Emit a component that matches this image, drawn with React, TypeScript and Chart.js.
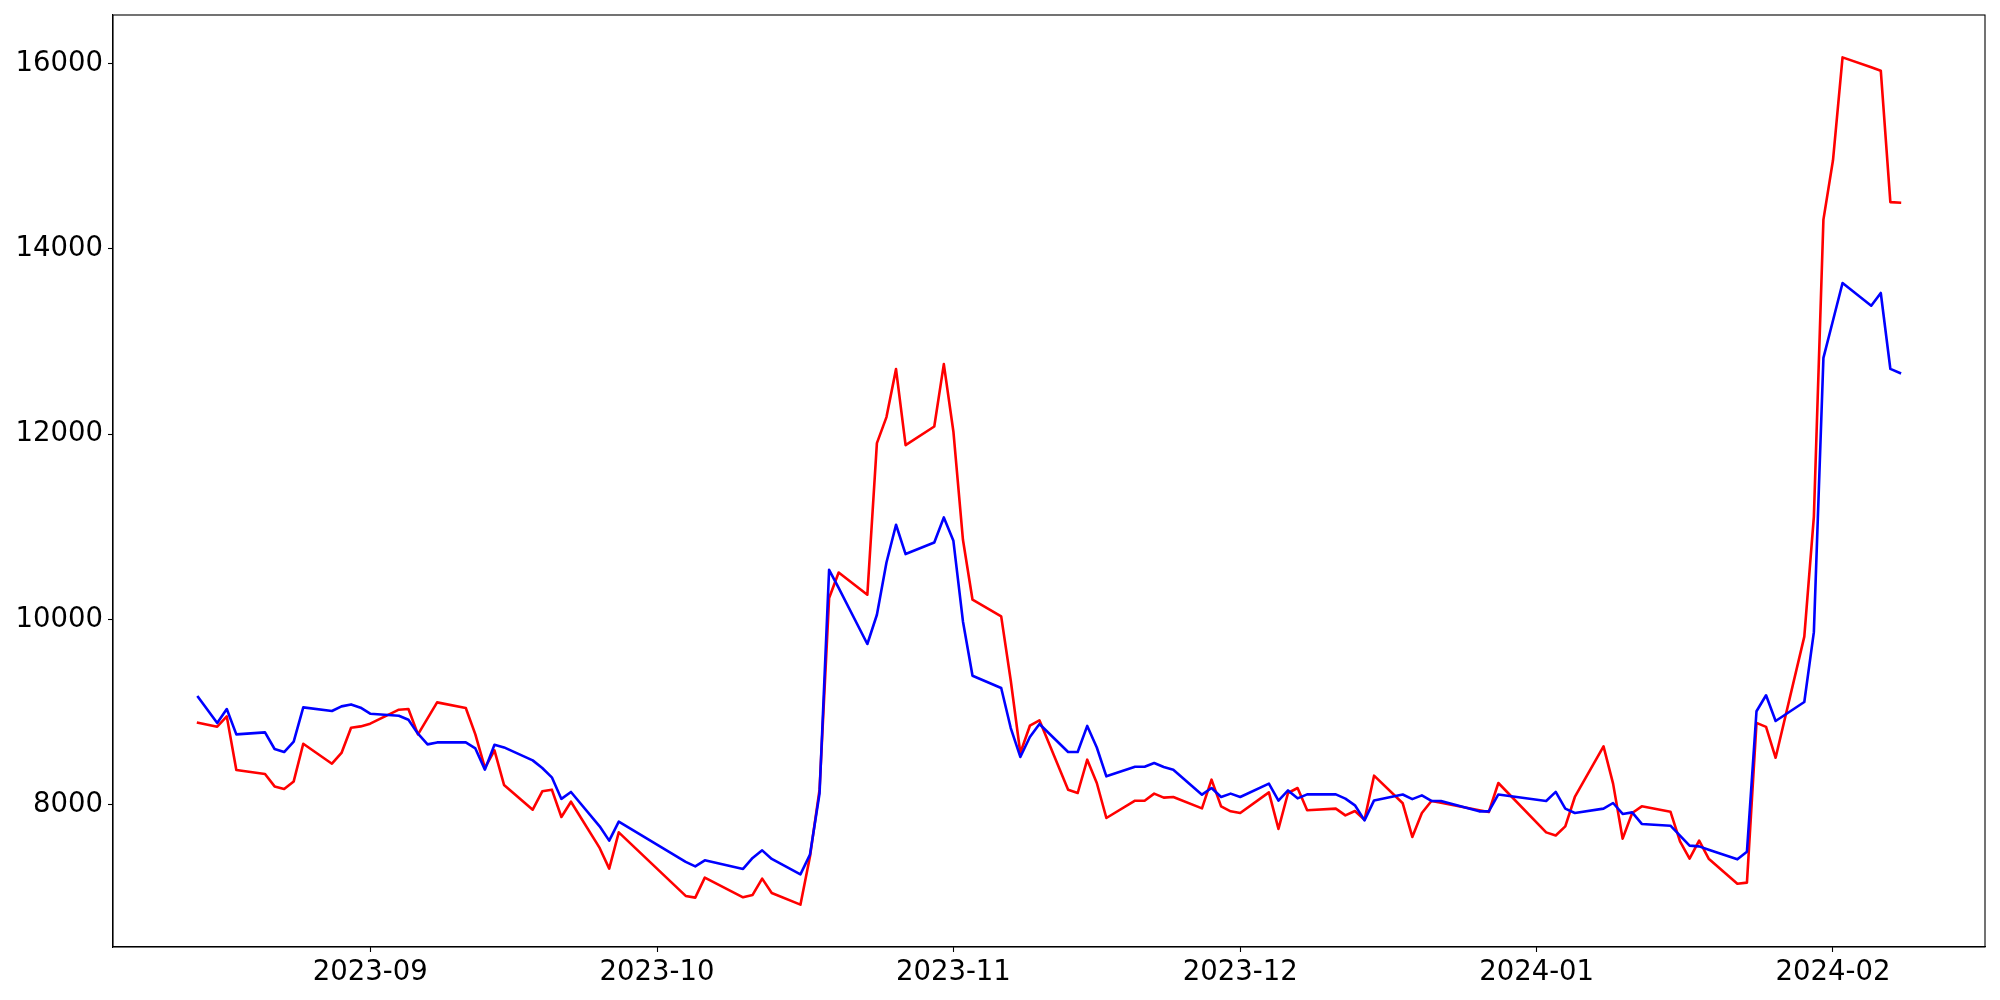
import React, { useEffect, useRef } from "react";
import { Chart, registerables } from "chart.js";

Chart.register(...registerables);

const dates = [
  "2023-08-14", "2023-08-16", "2023-08-17", "2023-08-18", "2023-08-21", "2023-08-22", "2023-08-23", "2023-08-24", "2023-08-25",
  "2023-08-28", "2023-08-29", "2023-08-30", "2023-08-31", "2023-09-01", "2023-09-04", "2023-09-05", "2023-09-06", "2023-09-07",
  "2023-09-08", "2023-09-11", "2023-09-12", "2023-09-13", "2023-09-14", "2023-09-15", "2023-09-18", "2023-09-19", "2023-09-20",
  "2023-09-21", "2023-09-22", "2023-09-25", "2023-09-26", "2023-09-27", "2023-10-04", "2023-10-05", "2023-10-06", "2023-10-10",
  "2023-10-11", "2023-10-12", "2023-10-13", "2023-10-16", "2023-10-17", "2023-10-18", "2023-10-19", "2023-10-20", "2023-10-23",
  "2023-10-24", "2023-10-25", "2023-10-26", "2023-10-27", "2023-10-30", "2023-10-31", "2023-11-01", "2023-11-02", "2023-11-03",
  "2023-11-06", "2023-11-07", "2023-11-08", "2023-11-09", "2023-11-10", "2023-11-13", "2023-11-14", "2023-11-15", "2023-11-16",
  "2023-11-17", "2023-11-20", "2023-11-21", "2023-11-22", "2023-11-23", "2023-11-24", "2023-11-27", "2023-11-28", "2023-11-29",
  "2023-11-30", "2023-12-01", "2023-12-04", "2023-12-05", "2023-12-06", "2023-12-07", "2023-12-08", "2023-12-11", "2023-12-12",
  "2023-12-13", "2023-12-14", "2023-12-15", "2023-12-18", "2023-12-19", "2023-12-20", "2023-12-21", "2023-12-22", "2023-12-26",
  "2023-12-27", "2023-12-28", "2024-01-02", "2024-01-03", "2024-01-04", "2024-01-05", "2024-01-08", "2024-01-09", "2024-01-10",
  "2024-01-11", "2024-01-12", "2024-01-15", "2024-01-16", "2024-01-17", "2024-01-18", "2024-01-19", "2024-01-22", "2024-01-23",
  "2024-01-24", "2024-01-25", "2024-01-26", "2024-01-29", "2024-01-30", "2024-01-31", "2024-02-01", "2024-02-02", "2024-02-05",
  "2024-02-06", "2024-02-07", "2024-02-08",
];

const redValues = [
  8885, 8842, 8953, 8374, 8331, 8197, 8169, 8251, 8658,
  8442, 8558, 8831, 8845, 8874, 9025, 9032, 8759, 8931,
  9104, 9043, 8759, 8396, 8586, 8213, 7946, 8144, 8162,
  7867, 8032, 7533, 7310, 7701, 7015, 6997, 7212, 7000,
  7026, 7202, 7047, 6921, 7440, 8162, 10230, 10506, 10266,
  11902, 12183, 12701, 11881, 12082, 12755, 12028, 10859, 10212,
  10032, 9340, 8558, 8852, 8910, 8162, 8126, 8486, 8234,
  7856, 8043, 8043, 8119, 8076, 8083, 7960, 8270, 7982,
  7928, 7910, 8133, 7738, 8126, 8180, 7939, 7957, 7885,
  7932, 7838, 8313, 8015, 7652, 7910, 8040, 8020, 7940,
  7921, 8234, 7701, 7667, 7766, 8083, 8629, 8227, 7633,
  7910, 7982, 7924, 7604, 7417, 7612, 7417, 7147, 7159,
  8883, 8840, 8506, 9814, 11106, 14315, 14955, 16066, 15960,
  15922, 14504, 14498,
];

const blueValues = [
  9162, 8881, 9032, 8759, 8780, 8601, 8568, 8680, 9050,
  9011, 9061, 9082, 9047, 8982, 8960, 8917, 8766, 8651,
  8672, 8672, 8607, 8378, 8647, 8618, 8478, 8396, 8295,
  8062, 8137, 7766, 7612, 7817, 7382, 7334, 7399, 7306,
  7425, 7507, 7414, 7248, 7461, 8120, 10535, 10341, 9734,
  10050, 10614, 11021, 10705, 10830, 11100, 10848, 9978, 9392,
  9259, 8827, 8515, 8730, 8871, 8569, 8569, 8850, 8617,
  8306, 8410, 8410, 8450, 8407, 8378, 8108, 8180, 8083,
  8119, 8083, 8227, 8043, 8154, 8068, 8111, 8111, 8065,
  7993, 7831, 8046, 8110, 8060, 8100, 8040, 8040, 7928,
  7928, 8110, 8040, 8138, 7957, 7910, 7957, 8018, 7900,
  7917, 7792, 7773, 7666, 7558, 7550, 7514, 7410, 7493,
  9008, 9181, 8903, 9108, 9862, 12822, 13226, 13631, 13386,
  13523, 12704, 12660,
];

const yTicks = [8000, 10000, 12000, 14000, 16000];
const xTickLabels = ["2023-09", "2023-10", "2023-11", "2023-12", "2024-01", "2024-02"];

const toDay = (s: string) => {
  const [y, m, d] = s.split("-").map(Number);
  return Date.UTC(y, m - 1, d) / 86400000;
};

const FONT = { family: "'DejaVu Sans', sans-serif", size: 27.5 };

const boxPlugin = {
  id: "axesBox",
  afterDraw(chart: any) {
    const { ctx, chartArea } = chart;
    ctx.save();
    ctx.strokeStyle = "#000";
    ctx.lineWidth = 1.1;
    ctx.strokeRect(chartArea.left, chartArea.top, chartArea.right - chartArea.left, chartArea.bottom - chartArea.top);
    ctx.restore();
  },
};

export default function App() {
  const ref = useRef<HTMLCanvasElement | null>(null);

  useEffect(() => {
    if (!ref.current) return;
    const xs = dates.map(toDay);
    const xMinD = Math.min(...xs);
    const xMaxD = Math.max(...xs);
    const xPad = (xMaxD - xMinD) * 0.05;
    const all = [...redValues, ...blueValues];
    const yMinD = Math.min(...all);
    const yMaxD = Math.max(...all);
    const yPad = (yMaxD - yMinD) * 0.05;
    const xTickDays = xTickLabels.map((l) => toDay(l + "-01"));

    const lineStyle = {
      borderWidth: 2.6,
      pointRadius: 0,
      tension: 0,
      fill: false,
      borderJoinStyle: "round",
      borderCapStyle: "square",
    };

    const chart = new Chart(ref.current, {
      type: "line",
      data: {
        datasets: [
          {
            label: "blue",
            data: xs.map((x, i) => ({ x, y: blueValues[i] })),
            borderColor: "#0000ff",
            backgroundColor: "#0000ff",
            ...lineStyle,
          },
          {
            label: "red",
            data: xs.map((x, i) => ({ x, y: redValues[i] })),
            borderColor: "#ff0000",
            backgroundColor: "#ff0000",
            ...lineStyle,
          },
        ],
      },
      options: {
        responsive: false,
        animation: false,
        events: [],
        layout: { padding: { top: 15, right: 15, left: 0, bottom: 0 } },
        plugins: { legend: { display: false }, tooltip: { enabled: false } },
        scales: {
          x: {
            type: "linear",
            min: xMinD - xPad,
            max: xMaxD + xPad,
            afterBuildTicks: (axis: any) => {
              axis.ticks = xTickDays.map((v) => ({ value: v }));
            },
            afterFit: (axis: any) => {
              axis.height = 53;
              axis.paddingLeft = 0;
              axis.paddingRight = 0;
            },
            ticks: {
              autoSkip: false,
              maxRotation: 0,
              minRotation: 0,
              color: "#000",
              font: FONT,
              padding: 4,
              callback: (v: any) => {
                const i = xTickDays.indexOf(Number(v));
                return i >= 0 ? xTickLabels[i] : "";
              },
            },
            grid: { drawOnChartArea: false, drawTicks: true, tickLength: 5, tickColor: "#000", tickWidth: 1.1 },
            border: { display: true, color: "#000", width: 1.1 },
          },
          y: {
            type: "linear",
            min: yMinD - yPad,
            max: yMaxD + yPad,
            afterBuildTicks: (axis: any) => {
              axis.ticks = yTicks.map((v) => ({ value: v }));
            },
            afterFit: (axis: any) => {
              axis.width = 113;
              axis.paddingTop = 0;
              axis.paddingBottom = 0;
            },
            ticks: {
              autoSkip: false,
              color: "#000",
              font: FONT,
              padding: 5,
              callback: (v: any) => String(v),
            },
            grid: { drawOnChartArea: false, drawTicks: true, tickLength: 5, tickColor: "#000", tickWidth: 1.1 },
            border: { display: true, color: "#000", width: 1.1 },
          },
        },
      },
      plugins: [boxPlugin],
    } as any);
    return () => chart.destroy();
  }, []);

  return (
    <div style={{ position: "fixed", left: 0, top: 0, width: 2000, height: 1000, background: "#fff" }}>
      <canvas ref={ref} width={2000} height={1000} style={{ display: "block", width: 2000, height: 1000 }} />
    </div>
  );
}
